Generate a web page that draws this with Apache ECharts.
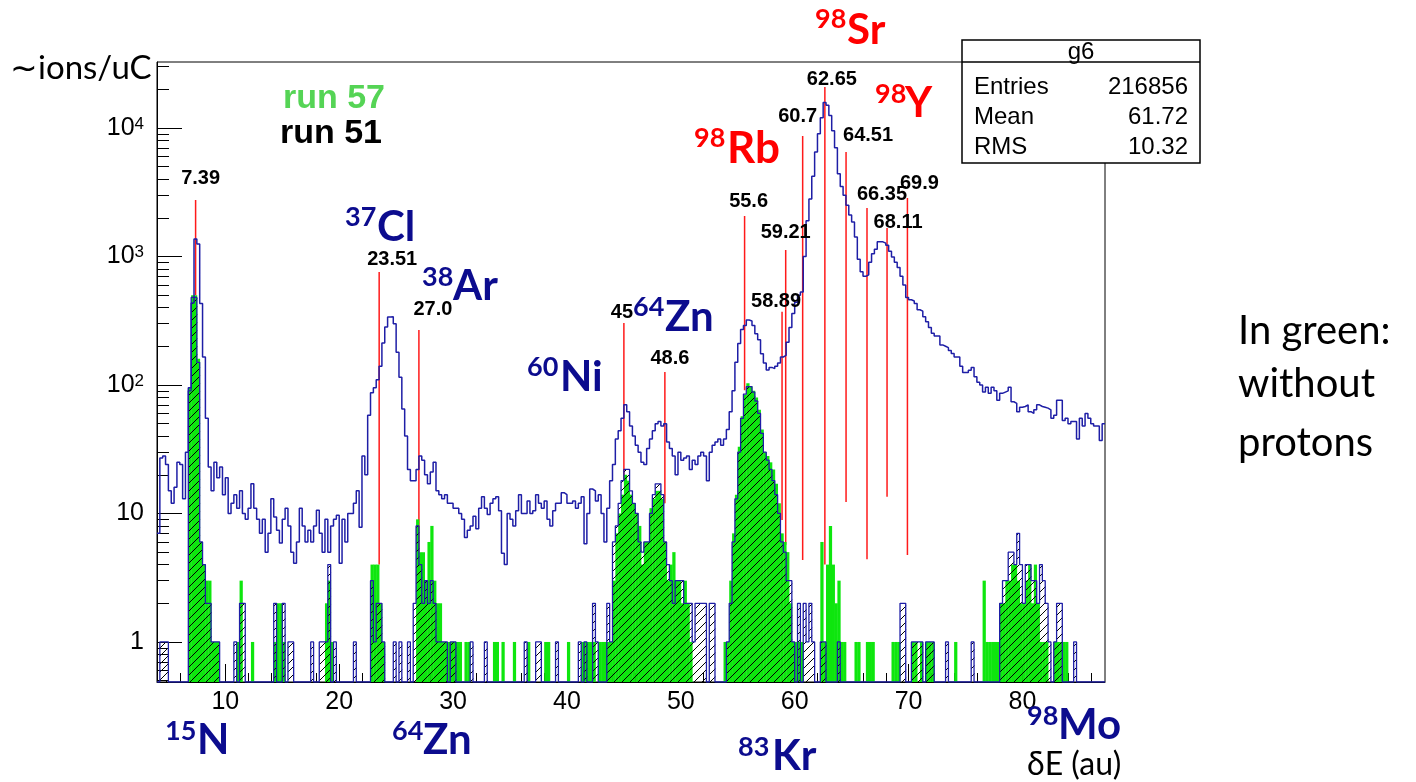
<!DOCTYPE html>
<html>
<head>
<meta charset="utf-8">
<title>g6 - run 51 / run 57</title>
<script src="https://cdn.jsdelivr.net/npm/echarts@6/dist/echarts.min.js"></script>
<style>
  html, body { margin: 0; background: #fff; }
  #chart { width: 1416px; height: 782px; }
</style>
</head>
<body>
<div id="chart"></div>
<script>
// binning of the dE histogram
const BIN_START = 4
const BIN_WIDTH = 0.25
const X_MIN = 4
const X_MAX = 87.25
const Y_MIN = 0.488
const Y_MAX = 32600

// run 51, all ions: one row per unit of dE (4 bins each), starting at dE = 4
const run51Rows = [
  [7, 27, 28, 24], [15, 12, 16, 25], [24, 13, 30, 95], [435, 1370, 1250, 430],
  [165, 55, 23, 15], [25, 19, 23, 14], [19, 10, 12, 14], [11, 15, 10, 9],
  [11, 17, 11, 9], [7, 9, 5, 7], [13, 9.4, 7.4, 5.9], [9, 11, 8, 5],
  [4.1, 6, 11, 8], [6, 7.4, 6, 8], [10.6, 7, 5, 9], [5, 8, 9, 9.7],
  [4.1, 9, 6, 10], [10, 12, 15, 7.8], [28, 20, 58, 87], [95, 110, 140, 212],
  [283, 338, 340, 300], [180, 115, 65, 40], [22, 18, 18, 22], [28, 26, 20, 17],
  [21, 25, 15, 14], [13, 14, 12, 12], [11, 11, 10, 9], [6.5, 7.4, 8, 9.5],
  [7.6, 11, 13.5, 11], [9.8, 12, 13, 13.5], [10.5, 4.9, 4, 10], [9, 8, 10.5, 14],
  [10, 10, 12.5, 10], [10.5, 14, 12, 11], [12.5, 9, 8, 10.5], [12, 12, 14.5, 14],
  [12, 12, 12.5, 11], [12, 13.5, 5.8, 10], [15.5, 15, 12.5, 14], [10, 6, 11, 18],
  [24, 38, 44, 55], [70, 62, 48, 40], [34, 30, 25, 24], [32, 38, 44, 50],
  [52, 48, 50, 36], [32, 28, 20, 30], [26, 27, 28, 22], [26, 24, 28, 30],
  [28, 18, 30, 34], [36, 38, 34, 38], [45, 62, 90, 150], [210, 270, 290, 320],
  [315, 290, 250, 225], [175, 148, 131, 137], [134, 140, 148, 165], [170, 215, 280, 360],
  [440, 500, 530, 1000], [1900, 2800, 4200, 6500], [9000, 12000, 15800, 15000], [12500, 9500, 7000, 4400],
  [3500, 3000, 2500, 2100], [1850, 1420, 950, 760], [700, 720, 900, 1050], [1140, 1300, 1300, 1270],
  [1220, 1100, 990, 900], [820, 700, 600, 480], [460, 450, 430, 385], [375, 340, 310, 280],
  [253, 240, 240, 205], [200, 195, 185, 176], [165, 165, 140, 125], [125, 130, 137, 116],
  [105, 100, 88, 96], [86, 96, 90, 76], [86, 88, 90, 96], [74, 72, 62, 67],
  [68, 70, 62, 60], [64, 70, 68, 67], [66, 64, 55, 58], [76, 76, 53, 55],
  [50, 52, 52, 38], [55, 48, 60, 55], [50, 48, 48, 37], [50]
]

// run 57 (green), [bin start, ions/uC]
const run57 = [
  [6.75, 95], [7, 500], [7.25, 500], [7.5, 160], [7.75, 6], [8, 4], [8.25, 3], [8.5, 3], [8.75, 1], [9, 1], [9.25, 1],
  [11, 1], [11.25, 3], [12.25, 1], [14.25, 1], [14.5, 2], [14.75, 2], [15, 1], [18.75, 2], [19, 3], [19.25, 1],
  [22.75, 4], [23, 4], [23.25, 4], [23.5, 2], [23.75, 1],
  [26.75, 9], [27, 5], [27.25, 5], [27.5, 3], [27.75, 6], [28, 8], [28.25, 3], [28.5, 2], [28.75, 2],
  [29, 1], [29.25, 1], [29.5, 1], [29.75, 1], [30, 1], [30.25, 1], [30.5, 1], [31, 1], [31.25, 1],
  [33.5, 1], [33.75, 1], [34.25, 1], [35.25, 1], [36.5, 1], [38, 1], [38.25, 1], [40, 1],
  [41.25, 1], [41.5, 1], [41.75, 1], [42, 1], [42.25, 1], [42.75, 1], [43, 1], [43.25, 1], [43.5, 1], [43.75, 1],
  [44, 3], [44.25, 7], [44.5, 10], [44.75, 14], [45, 20], [45.25, 18], [45.5, 14], [45.75, 12],
  [46, 10], [46.25, 8], [46.5, 4], [46.75, 6], [47, 6], [47.25, 11], [47.5, 13], [47.75, 15],
  [48, 15], [48.25, 13], [48.5, 6], [48.75, 3], [49, 4], [49.25, 5], [49.5, 3], [49.75, 3],
  [50, 2], [50.25, 3], [50.5, 2], [50.75, 1],
  [53.75, 1], [54, 1], [54.25, 3], [54.5, 7], [54.75, 14], [55, 33], [55.25, 57], [55.5, 84], [55.75, 103],
  [56, 98], [56.25, 90], [56.5, 80], [56.75, 64], [57, 45], [57.25, 30], [57.5, 28], [57.75, 25],
  [58, 22], [58.25, 17], [58.5, 12], [58.75, 7], [59, 6], [59.25, 5], [59.5, 2], [59.75, 1],
  [60, 1], [60.25, 1], [60.5, 1],
  [62.25, 6], [62.5, 1], [62.75, 4], [63, 8], [63.25, 4], [63.5, 2], [63.75, 3], [64, 1], [64.25, 1],
  [65.25, 1], [65.5, 1], [66.25, 1], [66.5, 1], [66.75, 1], [68.5, 1], [68.75, 1], [69, 1],
  [70.25, 1], [70.5, 1], [71, 1], [71.5, 1], [71.75, 1], [72, 1], [74, 1],
  [76.5, 3], [76.75, 1], [77, 1], [77.25, 1], [77.5, 1], [77.75, 1],
  [78, 2], [78.25, 2], [78.5, 3], [78.75, 3], [79, 4], [79.25, 4], [79.5, 3], [79.75, 2],
  [80, 2], [80.25, 3], [80.5, 4], [80.75, 2], [81, 4], [81.25, 2], [81.5, 1], [81.75, 1], [82, 1],
  [82.75, 1], [83, 1], [83.25, 1], [83.5, 1], [83.75, 1]
]

// run 51 hatched selection, [bin start, ions/uC]
const run51Cut = [
  [4.25, 1], [4.5, 1], [4.75, 1],
  [6.75, 90], [7, 480], [7.25, 480], [7.5, 150], [7.75, 6], [8, 4], [8.25, 2], [8.5, 2], [8.75, 1], [9, 1], [9.25, 1],
  [10.75, 1], [11.25, 2], [11.5, 2], [14.25, 2], [15, 2], [15.5, 1], [15.75, 1], [17.5, 1],
  [18.25, 1], [18.5, 1], [18.75, 1], [19, 4], [19.5, 1], [21.25, 1],
  [22.75, 3], [23, 1], [23.25, 2], [23.5, 2], [23.75, 1], [24.75, 1], [25.25, 1], [26, 1],
  [26.5, 2], [26.75, 8], [27, 4], [27.25, 2], [27.5, 3], [27.75, 2], [28, 3], [28.25, 2],
  [28.5, 1], [28.75, 1], [29, 1], [29.25, 1], [29.75, 1], [30, 1],
  [31.5, 1], [32.75, 1], [36.25, 1], [37.25, 1], [37.5, 1], [39, 1], [41, 1], [41.5, 1],
  [42.25, 2], [42.5, 1], [43.5, 2], [43.75, 1],
  [44, 6], [44.25, 8], [44.5, 12], [44.75, 18], [45, 22], [45.25, 22], [45.5, 15], [45.75, 12],
  [46, 10], [46.25, 6], [46.5, 5], [46.75, 6], [47, 6], [47.25, 10], [47.5, 14], [47.75, 17],
  [48, 17], [48.25, 14], [48.5, 6], [48.75, 4], [49, 3], [49.25, 2], [49.5, 3], [49.75, 3],
  [50, 3], [50.25, 2], [50.5, 2], [50.75, 2], [51, 1], [51.25, 2], [51.5, 2], [51.75, 2],
  [52, 2], [52.5, 2], [52.75, 2],
  [54, 1], [54.25, 2], [54.5, 6], [54.75, 13], [55, 30], [55.25, 55], [55.5, 85], [55.75, 97],
  [56, 97], [56.25, 88], [56.5, 75], [56.75, 60], [57, 42], [57.25, 30], [57.5, 26], [57.75, 22],
  [58, 18], [58.25, 14], [58.5, 10], [58.75, 6], [59, 5], [59.25, 3], [59.5, 3], [59.75, 1],
  [60.25, 2], [60.75, 2], [61, 1], [61.25, 2], [61.5, 1], [62.25, 1], [62.5, 1], [63.75, 1],
  [69.25, 2], [69.5, 2], [70.25, 1], [70.5, 1], [70.75, 1], [71, 1], [71.5, 1], [71.75, 1],
  [72, 1], [73.25, 1], [75.5, 1],
  [78, 2], [78.25, 3], [78.5, 3], [78.75, 5], [79, 5], [79.25, 4], [79.5, 7], [79.75, 4],
  [80, 2], [80.25, 4], [80.5, 4], [80.75, 3], [81, 3], [81.25, 2], [81.5, 4], [81.75, 3],
  [82, 2], [82.25, 1], [82.75, 1], [83, 2], [83.25, 2], [84.5, 1]
]

// fitted peaks: [dE, top of marker, bottom of marker]
const peakLines = [
  [7.39, 2750, 500], [23.51, 757, 4], [27.0, 268, 0.488], [45, 304, 18.3], [48.6, 126, 12],
  [55.6, 2065, 91], [58.89, 372, 8.9], [59.21, 1124, 5.7], [60.7, 8670, 4.35], [62.65, 20840, 4],
  [64.51, 6505, 12.3], [66.35, 2385, 4.4], [68.11, 1667, 13.5], [69.9, 2852, 4.75]
]
const peakLabels = ['7.39', '23.51', '27.0', '45', '48.6', '55.6', '58.89', '59.21', '60.7', '62.65', '64.51', '66.35', '68.11', '69.9']
// label centre relative to the marker top, px
const peakLabelOffsets = [
  [5, -22], [13, -13], [14, -20], [-2, -10], [5, -14], [4, -15], [-6, -10],
  [0, -17], [-5, -19], [7, -7], [22, -16], [15, -13], [11, -5], [12, -14]
]

const xLabelValues = [10, 20, 30, 40, 50, 60, 70, 80]
const xMinorTicks = [6, 8, 12, 14, 16, 18, 22, 24, 26, 28, 32, 34, 36, 38, 42, 44, 46, 48, 52, 54, 56, 58,
  62, 64, 66, 68, 72, 74, 76, 78, 82, 84, 86]
const yLabelValues = [1, 10, 100, 1000, 10000]
const yMinorTicks = [0.5, 0.6, 0.7, 0.8, 0.9, 2, 3, 4, 5, 6, 7, 8, 9, 20, 30, 40, 50, 60, 70, 80, 90,
  200, 300, 400, 500, 600, 700, 800, 900, 2000, 3000, 4000, 5000, 6000, 7000, 8000, 9000, 20000, 30000]

const stats = [['Entries', '216856'], ['Mean', '61.72'], ['RMS', '10.32']]

// isotope tags: superscript, symbol, colour, layout in px (sup left, sup mid, main left, main mid, main size)
const ISO_BLUE = '#0c0c8e'
const ISO_RED = '#ff0000'
const isotopes = [
  ['37', 'Cl', ISO_BLUE, 345, 217, 377, 227, 42],
  ['38', 'Ar', ISO_BLUE, 422, 277, 453, 286, 42],
  ['60', 'Ni', ISO_BLUE, 527, 367, 560, 377, 42],
  ['64', 'Zn', ISO_BLUE, 633, 307, 665, 317, 42],
  ['98', 'Rb', ISO_RED, 694, 138, 727, 149, 44],
  ['98', 'Sr', ISO_RED, 815, 19, 847, 30, 42],
  ['98', 'Y', ISO_RED, 875, 94, 905, 103, 42],
  ['15', 'N', ISO_BLUE, 165, 731, 197, 740, 42],
  ['64', 'Zn', ISO_BLUE, 392, 731, 423, 740, 42],
  ['83', 'Kr', ISO_BLUE, 738, 747, 772, 756, 42],
  ['98', 'Mo', ISO_BLUE, 1027, 716, 1058, 725, 42]
]

const BLUE_LINE = '#1e1ea6'
const GREEN_FILL = '#0ee60e'
const AXIS_FONT = '"Liberation Sans", Arial'

function denseFromPairs(pairs) {
  const n = Math.round((X_MAX - BIN_START) / BIN_WIDTH)
  const out = new Array(n).fill(0)
  pairs.forEach(([x, v]) => { out[Math.round((x - BIN_START) / BIN_WIDTH)] = v })
  return out
}

// histogram outline as step points, empty bins drawn on the frame bottom
function stepPoints(values) {
  const pts = values.map((v, i) => [BIN_START + i * BIN_WIDTH, Math.max(v, Y_MIN)])
  pts.push([BIN_START + values.length * BIN_WIDTH, Math.max(values[values.length - 1], Y_MIN)])
  return pts
}

function makeHatch() {
  const c = document.createElement('canvas')
  c.width = 8
  c.height = 8
  const ctx = c.getContext('2d')
  ctx.strokeStyle = '#000'
  ctx.lineWidth = 1
  ctx.beginPath()
  ctx.moveTo(0, 8); ctx.lineTo(8, 0)
  ctx.moveTo(-1, 1); ctx.lineTo(1, -1)
  ctx.moveTo(7, 9); ctx.lineTo(9, 7)
  ctx.stroke()
  return c
}

function barRenderer(fill) {
  return function (params, api) {
    const x0 = api.value(0)
    const lo = api.coord([x0, Y_MIN])
    const hi = api.coord([x0 + BIN_WIDTH, api.value(1)])
    return {
      type: 'rect',
      shape: { x: lo[0], y: hi[1], width: hi[0] - lo[0] + 0.4, height: lo[1] - hi[1] },
      style: { fill }
    }
  }
}

const run51 = run51Rows.flat()
const run51CutDense = denseFromPairs(run51Cut)
const hatch = { image: makeHatch(), repeat: 'repeat' }

const graphics = []

// stats box
graphics.push({
  type: 'group', z: 100, children: [
    { type: 'rect', shape: { x: 962, y: 40, width: 238, height: 123 }, style: { fill: '#fff', stroke: '#000', lineWidth: 1.5 } },
    { type: 'line', shape: { x1: 962, y1: 62, x2: 1200, y2: 62 }, style: { stroke: '#000', lineWidth: 1.5 } },
    { type: 'text', x: 1081, y: 52, style: { text: 'g6', font: '24px ' + AXIS_FONT, fill: '#000', align: 'center', verticalAlign: 'middle' } }
  ].concat(stats.flatMap(([k, v], i) => [
    { type: 'text', x: 974, y: 87 + i * 30, style: { text: k, font: '24px ' + AXIS_FONT, fill: '#000', align: 'left', verticalAlign: 'middle' } },
    { type: 'text', x: 1188, y: 87 + i * 30, style: { text: v, font: '24px ' + AXIS_FONT, fill: '#000', align: 'right', verticalAlign: 'middle' } }
  ]))
})

// legend texts
graphics.push(
  { type: 'text', x: 283, y: 99, z: 100, style: { text: 'run 57', font: 'bold 34px ' + AXIS_FONT, fill: '#55d455', verticalAlign: 'middle' } },
  { type: 'text', x: 280, y: 134, z: 100, style: { text: 'run 51', font: 'bold 34px ' + AXIS_FONT, fill: '#000', verticalAlign: 'middle' } }
)

// isotope tags
isotopes.forEach(([sup, main, color, sx, sy, mx, my, size]) => {
  graphics.push(
    { type: 'text', x: sx, y: sy, z: 100, style: { text: sup, font: 'bold 27px Lato', fill: color, verticalAlign: 'middle' } },
    { type: 'text', x: mx, y: my, z: 100, style: { text: main, font: 'bold ' + size + 'px Lato', fill: color, verticalAlign: 'middle' } }
  )
})

// axis titles and side note
graphics.push(
  { type: 'text', x: 10, y: 68, z: 100, style: { text: '\u223Cions/uC', font: '33px Lato', fill: '#000', verticalAlign: 'middle' } },
  { type: 'text', x: 1027, y: 765, z: 100, style: { text: '\u03B4E (au)', font: '32px Lato', fill: '#000', verticalAlign: 'middle' } },
  { type: 'text', x: 1238, y: 331, z: 100, style: { text: 'In green:', font: '40px Lato', fill: '#000', verticalAlign: 'middle' } },
  { type: 'text', x: 1238, y: 384, z: 100, style: { text: 'without', font: '40px Lato', fill: '#000', verticalAlign: 'middle' } },
  { type: 'text', x: 1238, y: 443, z: 100, style: { text: 'protons', font: '40px Lato', fill: '#000', verticalAlign: 'middle' } }
)

const chart = echarts.init(document.getElementById('chart'))
chart.setOption({
  animation: false,
  backgroundColor: '#fff',
  grid: { left: 157, right: 311, top: 62, bottom: 100, show: true, borderColor: '#000', borderWidth: 1 },
  xAxis: [
    {
      type: 'value', min: X_MIN, max: X_MAX,
      axisLine: { show: true, lineStyle: { color: '#000', width: 1 } },
      axisTick: { show: true, inside: true, length: 18, customValues: xLabelValues, lineStyle: { color: '#000' } },
      axisLabel: { customValues: xLabelValues, fontSize: 25, color: '#000', fontFamily: AXIS_FONT, margin: 8 },
      splitLine: { show: false }
    },
    {
      type: 'value', min: X_MIN, max: X_MAX, position: 'bottom',
      axisLine: { show: false },
      axisTick: { show: true, inside: true, length: 9, customValues: xMinorTicks, lineStyle: { color: '#000' } },
      axisLabel: { show: false },
      splitLine: { show: false }
    }
  ],
  yAxis: [
    {
      type: 'log', logBase: 10, min: Y_MIN, max: Y_MAX,
      axisLine: { show: true, lineStyle: { color: '#000', width: 1 } },
      axisTick: { show: true, inside: true, length: 25, customValues: yLabelValues, lineStyle: { color: '#000' } },
      axisLabel: {
        customValues: yLabelValues, margin: 13, color: '#000',
        formatter: v => v >= 100 ? '{b|10}{s|' + Math.round(Math.log10(v)) + '}' : '{b|' + v + '}',
        rich: {
          b: { fontSize: 25, fontFamily: AXIS_FONT, color: '#000' },
          s: { fontSize: 17, fontFamily: AXIS_FONT, color: '#000', verticalAlign: 'top' }
        }
      },
      splitLine: { show: false }
    },
    {
      type: 'log', logBase: 10, min: Y_MIN, max: Y_MAX, position: 'left',
      axisLine: { show: false },
      axisTick: { show: true, inside: true, length: 12, customValues: yMinorTicks, lineStyle: { color: '#000' } },
      axisLabel: { show: false },
      splitLine: { show: false }
    }
  ],
  graphic: graphics,
  series: [
    {
      name: 'peak markers', type: 'custom', z: 1, clip: true,
      data: peakLines,
      encode: { x: 0, y: [1, 2] },
      renderItem: (params, api) => {
        const top = api.coord([api.value(0), api.value(1)])
        const bot = api.coord([api.value(0), api.value(2)])
        return { type: 'line', shape: { x1: top[0], y1: top[1], x2: bot[0], y2: bot[1] }, style: { stroke: '#ff1a1a', lineWidth: 1.5 } }
      }
    },
    {
      name: 'run 57', type: 'custom', z: 2, clip: true,
      data: run57,
      encode: { x: 0, y: 1 },
      renderItem: barRenderer(GREEN_FILL)
    },
    {
      name: 'run 51 cut', type: 'custom', z: 3, clip: true,
      data: run51Cut,
      encode: { x: 0, y: 1 },
      renderItem: barRenderer(hatch)
    },
    {
      name: 'run 51 cut outline', type: 'line', z: 4, step: 'end', showSymbol: false, clip: true,
      data: stepPoints(run51CutDense),
      lineStyle: { color: BLUE_LINE, width: 1.3 }
    },
    {
      name: 'run 51', type: 'line', z: 5, step: 'end', showSymbol: false, clip: true,
      data: stepPoints(run51),
      lineStyle: { color: BLUE_LINE, width: 1.5 }
    },
    {
      name: 'peak labels', type: 'custom', z: 6,
      data: peakLines,
      encode: { x: 0, y: [1, 2] },
      renderItem: (params, api) => {
        const top = api.coord([api.value(0), api.value(1)])
        const off = peakLabelOffsets[params.dataIndex]
        return {
          type: 'text', x: top[0] + off[0], y: top[1] + off[1],
          style: { text: peakLabels[params.dataIndex], font: 'bold 20px ' + AXIS_FONT, fill: '#000', align: 'center', verticalAlign: 'middle' }
        }
      }
    }
  ]
})
window.addEventListener('resize', () => chart.resize())
</script>
</body>
</html>
